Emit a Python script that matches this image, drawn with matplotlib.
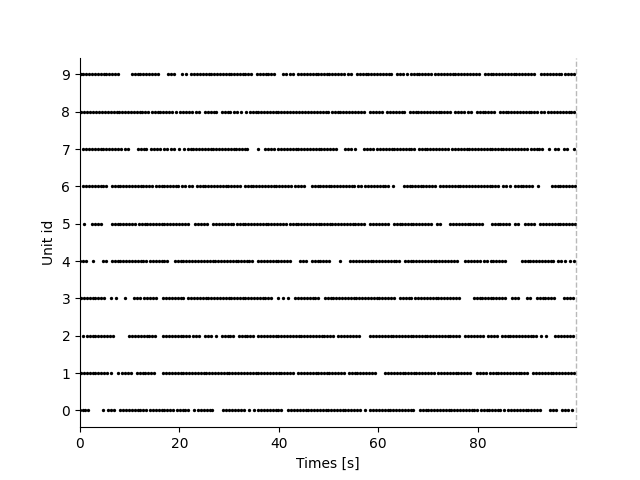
import matplotlib
matplotlib.use("Agg")
import matplotlib.pyplot as plt

t_stop = 99.8
unit_ids = [0, 1, 2, 3, 4, 5, 6, 7, 8, 9]

unit0 = [0.1, 0.6, 1.1, 1.7, 4.6, 5.7, 6.3, 6.9, 8.1, 8.7, 9.3, 9.8, 10.4, 11.0, 11.6, 12.1, 12.7, 13.3,
         14.1, 14.7, 15.3, 15.8, 16.4, 17.0, 17.6, 18.1, 18.7, 19.5, 20.1, 20.7, 21.2, 21.8, 23.0,
         23.8, 24.4, 25.0, 25.5, 26.1, 26.6, 28.8, 29.4, 30.0, 30.5, 31.1, 31.7, 32.3, 32.9, 34.1, 35.1,
         35.9, 36.5, 37.1, 37.6, 38.2, 38.8, 39.4, 39.9, 40.5, 41.9, 42.5, 43.1, 43.6, 44.2, 44.8, 45.4,
         45.9, 46.5, 47.1, 47.7, 48.2, 48.8, 49.4, 50.0, 50.6, 51.1, 51.7, 52.3, 52.9, 53.4, 54.0, 54.6,
         55.2, 55.7, 56.3, 57.3, 58.4, 59.0, 59.6, 60.1, 60.7, 61.3, 61.9, 62.4, 63.0, 63.6, 64.2, 64.7,
         65.3, 65.9, 66.5, 67.0, 68.4, 69.0, 69.6, 70.1, 70.7, 71.3, 71.9, 72.4, 73.0, 73.6, 74.2, 74.7,
         75.3, 75.9, 76.5, 77.0, 77.6, 78.2, 78.8, 79.3, 79.9, 80.6, 81.2, 81.8, 82.3, 82.9, 83.5, 84.1,
         84.6, 85.4, 86.2, 86.8, 87.4, 87.9, 88.5, 89.1, 89.7, 90.2, 90.8, 91.4, 92.0, 92.6, 94.6, 95.2,
         95.8, 96.9, 97.5, 98.1, 99.0]
unit1 = [0.2, 0.8, 1.4, 2.0, 2.6, 3.1, 3.7, 4.3, 4.9, 5.4, 6.3, 7.6, 8.4, 9.0, 9.6, 10.2, 11.4, 12.0,
         12.6, 13.1, 13.7, 14.3, 14.9, 16.8, 17.4, 18.0, 18.5, 19.1, 19.7, 20.3, 20.8, 21.4, 22.0, 22.6,
         23.1, 23.7, 24.3, 24.9, 25.4, 26.0, 26.6, 27.2, 27.7, 28.3, 28.9, 29.5, 30.0, 30.6, 31.2, 31.8,
         32.4, 33.0, 33.6, 34.2, 34.8, 35.4, 35.9, 36.5, 37.1, 37.7, 38.2, 38.8, 39.4, 40.0, 40.5, 41.1,
         41.7, 42.3, 42.9, 43.9, 44.5, 45.1, 45.6, 46.2, 46.8, 47.4, 47.9, 48.5, 49.1, 49.7, 50.2, 50.8,
         51.4, 52.0, 52.5, 53.1, 54.1, 54.7, 55.3, 55.8, 56.4, 57.0, 57.6, 58.1, 58.7, 59.3, 61.4, 62.0,
         62.6, 63.1, 63.7, 64.3, 64.9, 65.4, 66.0, 66.6, 67.2, 67.7, 68.3, 68.9, 69.5, 70.0, 70.6, 71.2,
         72.1, 72.7, 73.3, 73.8, 74.4, 75.0, 75.6, 76.1, 76.7, 77.3, 77.9, 78.5, 79.8, 80.4, 81.0, 81.6,
         82.5, 83.1, 83.7, 84.2, 84.8, 85.4, 86.0, 86.5, 87.1, 87.7, 88.3, 88.8, 89.4, 90.0, 91.2, 91.8,
         92.4, 92.9, 93.5, 94.1, 94.7, 95.2, 95.8, 96.4, 97.0, 97.5, 98.1, 98.7, 99.3]
unit2 = [0.6, 1.4, 2.0, 2.6, 3.1, 3.7, 4.3, 4.9, 5.4, 6.0, 6.6, 9.8, 10.4, 11.0, 11.6, 12.2, 12.8, 13.4,
         13.9, 14.5, 15.1, 16.8, 17.4, 18.0, 18.5, 19.1, 19.7, 20.3, 20.8, 21.4, 22.0, 22.8, 23.4, 24.0,
         25.1, 25.7, 26.4, 27.4, 28.5, 29.1, 29.7, 30.2, 30.8, 31.9, 32.5, 33.1, 33.6, 34.2, 34.8, 35.9,
         36.5, 37.1, 37.6, 38.2, 38.8, 39.4, 39.9, 40.5, 41.1, 41.7, 42.2, 42.8, 43.4, 44.0, 44.5, 45.1,
         45.7, 46.3, 46.8, 47.4, 48.0, 48.6, 49.1, 49.7, 50.3, 50.9, 52.0, 52.6, 53.2, 53.7, 54.3, 55.0,
         55.6, 56.2, 58.4, 59.0, 59.6, 60.1, 60.7, 61.3, 61.9, 62.5, 63.0, 63.6, 64.2, 64.8, 65.3, 65.9,
         66.5, 67.1, 67.6, 68.2, 68.8, 69.4, 69.9, 70.5, 71.1, 71.7, 72.2, 72.8, 73.4, 74.0, 74.5, 75.1,
         75.7, 76.3, 77.5, 78.1, 78.7, 79.2, 79.8, 80.4, 81.0, 82.0, 82.6, 83.3, 83.9, 84.9, 85.5, 86.1,
         86.6, 87.2, 87.8, 88.4, 88.9, 89.5, 90.1, 90.7, 91.2, 91.8, 92.8, 93.8, 95.6, 96.2, 96.8, 97.3,
         97.9, 98.5, 99.1]
unit3 = [0.2, 0.8, 1.4, 2.0, 2.6, 3.1, 3.7, 4.3, 4.9, 6.3, 7.3, 9.0, 10.8, 11.4, 12.0, 12.9, 13.5, 14.1,
         14.6, 15.2, 16.8, 17.4, 18.0, 18.5, 19.1, 19.7, 20.3, 20.8, 21.8, 22.4, 23.0, 23.5, 24.1, 24.7,
         25.3, 25.8, 26.4, 27.0, 27.6, 28.1, 28.7, 29.3, 29.9, 30.4, 31.0, 31.6, 32.2, 32.7, 33.3, 33.9,
         34.5, 35.0, 35.6, 36.2, 36.8, 37.3, 37.9, 38.5, 39.8, 40.8, 41.8, 43.3, 43.9, 44.5, 45.0, 45.6,
         46.2, 46.8, 47.3, 47.9, 49.3, 49.9, 50.5, 51.0, 51.6, 52.2, 52.8, 53.3, 53.9, 54.5, 55.1, 55.6,
         56.2, 56.8, 57.4, 57.9, 58.5, 59.1, 59.7, 60.2, 60.8, 61.4, 62.0, 62.5, 63.1, 64.4, 65.0, 65.6,
         66.1, 66.7, 67.4, 68.1, 68.7, 69.3, 69.8, 70.4, 71.0, 71.6, 72.1, 72.7, 73.3, 73.9, 74.4, 75.0,
         75.6, 76.2, 79.2, 79.8, 80.4, 80.9, 81.5, 82.1, 82.7, 83.2, 83.8, 84.4, 85.0, 85.6, 86.9, 87.5,
         88.2, 89.9, 90.6, 91.9, 92.5, 93.1, 93.6, 94.2, 94.8, 95.3, 97.3, 97.9, 98.5, 99.2]
unit4 = [0.1, 0.6, 1.2, 2.6, 4.7, 5.3, 6.4, 7.0, 7.6, 8.1, 8.7, 9.3, 9.9, 10.4, 11.0, 11.6, 12.2, 12.7,
         13.3, 14.1, 14.7, 15.3, 15.8, 16.4, 17.0, 17.6, 19.1, 19.7, 20.3, 20.8, 21.4, 22.0, 22.6, 23.2,
         23.8, 24.4, 24.9, 25.5, 26.1, 26.7, 27.2, 27.8, 28.4, 29.0, 29.5, 30.1, 30.7, 31.3, 31.8, 32.4,
         33.0, 33.6, 34.1, 34.7, 35.9, 36.5, 37.1, 37.6, 38.2, 38.8, 39.4, 39.9, 40.5, 41.1, 41.7, 42.3,
         44.3, 44.9, 45.5, 46.6, 47.2, 47.8, 48.3, 48.9, 49.5, 50.1, 52.3, 54.4, 55.0, 55.6, 56.1, 56.7,
         57.3, 57.9, 58.5, 59.0, 59.6, 60.2, 60.8, 61.3, 61.9, 62.5, 63.1, 63.6, 64.2, 65.4, 66.0, 66.6,
         67.1, 67.7, 68.3, 68.9, 69.4, 70.0, 70.6, 71.2, 71.7, 72.3, 72.9, 73.5, 74.0, 74.6, 75.2, 75.8,
         77.5, 78.1, 78.7, 79.2, 79.8, 80.4, 81.2, 81.8, 82.6, 83.2, 83.8, 84.3, 84.9, 85.5, 88.9, 89.5,
         90.1, 90.6, 91.2, 91.8, 92.4, 92.9, 93.5, 94.1, 94.7, 95.2, 96.2, 96.8, 97.6, 98.5, 99.3]
unit5 = [0.9, 2.4, 3.0, 3.6, 4.2, 6.4, 7.0, 7.6, 8.1, 8.7, 9.3, 9.9, 10.4, 11.0, 11.8, 12.4, 13.0, 13.5,
         14.1, 14.7, 15.3, 15.8, 16.4, 17.0, 17.6, 18.2, 18.8, 19.4, 20.0, 20.6, 21.1, 21.7, 23.1, 23.7,
         24.3, 24.9, 25.5, 26.8, 27.4, 28.0, 28.5, 29.1, 29.7, 30.3, 30.8, 31.6, 32.2, 32.8, 33.3, 33.9,
         34.5, 35.1, 35.6, 36.2, 36.8, 37.4, 37.9, 38.5, 39.1, 39.7, 40.2, 40.8, 41.4, 42.2, 42.8, 43.4,
         43.9, 44.5, 45.1, 45.7, 46.2, 46.8, 47.4, 48.0, 48.5, 49.1, 49.7, 50.3, 50.8, 51.4, 52.0, 52.6,
         53.1, 53.7, 54.3, 54.9, 55.4, 56.0, 56.6, 57.2, 58.4, 59.0, 59.6, 60.1, 60.7, 61.3, 61.9, 63.1,
         63.7, 64.3, 64.8, 65.4, 66.0, 66.6, 67.1, 67.7, 68.3, 68.9, 69.4, 70.0, 70.6, 71.8, 72.5, 74.5,
         75.1, 75.7, 76.2, 76.8, 77.4, 78.0, 78.5, 79.1, 79.7, 80.3, 80.8, 82.9, 83.5, 84.1, 84.6, 85.2,
         85.8, 86.4, 87.6, 88.2, 89.6, 90.2, 90.8, 91.4, 92.6, 93.2, 93.8, 94.3, 94.9, 95.5, 96.1, 96.6,
         97.2, 97.8, 98.4, 98.9, 99.5]
unit6 = [0.7, 1.3, 1.9, 2.4, 3.0, 3.6, 4.2, 4.7, 5.3, 6.4, 7.0, 7.6, 8.1, 8.7, 9.3, 9.9, 10.4, 11.0,
         11.6, 12.2, 12.7, 13.3, 13.9, 14.5, 15.2, 15.8, 16.4, 17.0, 17.5, 18.1, 18.7, 19.3, 19.8, 20.5,
         21.2, 22.0, 22.6, 23.5, 24.1, 24.7, 25.2, 25.8, 26.4, 27.0, 27.5, 28.1, 28.7, 29.3, 29.8, 30.4,
         31.0, 31.6, 32.2, 33.2, 33.8, 34.4, 34.9, 35.5, 36.1, 36.7, 37.2, 37.8, 38.4, 39.0, 39.5, 40.1,
         40.7, 41.3, 41.8, 42.4, 43.3, 43.9, 44.5, 45.1, 46.6, 47.2, 47.8, 48.3, 48.9, 49.5, 50.1, 50.6,
         51.2, 51.8, 52.4, 52.9, 53.5, 54.1, 54.7, 55.2, 55.9, 56.5, 57.4, 58.0, 58.6, 59.1, 59.7, 60.3,
         60.9, 61.4, 62.0, 63.0, 65.1, 65.7, 66.3, 66.8, 67.4, 68.0, 68.6, 69.1, 69.7, 70.3, 70.9, 71.4,
         72.5, 73.1, 73.7, 74.2, 74.8, 75.4, 76.0, 76.5, 77.1, 77.7, 78.3, 78.8, 79.4, 80.0, 80.6, 81.2,
         81.8, 82.4, 82.9, 83.5, 84.1, 85.2, 85.8, 86.5, 87.5, 88.1, 88.7, 89.2, 89.8, 90.4, 91.0, 92.1,
         94.9, 95.5, 96.1, 96.6, 97.2, 97.8, 98.4, 98.9, 99.5]
unit7 = [0.7, 1.3, 1.9, 2.4, 3.0, 3.6, 4.2, 4.7, 5.3, 5.9, 6.5, 7.0, 7.6, 8.2, 9.1, 9.7, 11.6, 12.2,
         12.8, 13.3, 14.2, 14.8, 15.5, 16.1, 17.0, 17.6, 18.3, 19.0, 20.0, 21.0, 21.8, 22.3, 22.8, 23.4,
         24.0, 24.5, 25.1, 25.7, 26.3, 26.8, 27.4, 28.0, 28.6, 29.1, 29.7, 30.3, 30.9, 31.4, 32.0, 32.6,
         33.2, 33.7, 35.8, 37.2, 37.8, 38.4, 39.0, 39.9, 40.5, 41.1, 41.6, 42.2, 42.8, 43.4, 43.9, 44.5,
         45.1, 45.7, 46.2, 46.8, 47.4, 48.0, 48.5, 49.1, 49.7, 50.3, 50.9, 51.5, 53.4, 54.0, 54.6, 55.3,
         57.1, 57.7, 58.3, 58.9, 59.8, 60.4, 61.0, 61.5, 62.1, 62.7, 63.2, 63.8, 64.4, 65.0, 65.5, 66.1,
         66.7, 67.3, 68.2, 68.8, 69.4, 69.9, 70.5, 71.1, 71.7, 72.2, 72.8, 73.4, 74.0, 74.9, 75.5, 76.0,
         76.6, 77.2, 77.8, 78.3, 78.9, 79.5, 80.1, 80.6, 81.2, 81.8, 82.4, 82.9, 83.5, 84.1, 84.7, 85.2,
         85.8, 86.4, 87.0, 87.5, 88.1, 88.7, 89.3, 89.9, 90.7, 91.3, 91.9, 92.4, 93.0, 94.3, 95.5, 96.1,
         97.4, 98.0, 99.4]
unit8 = [0.3, 0.9, 1.5, 2.0, 2.6, 3.2, 3.8, 4.5, 5.1, 5.6, 6.2, 6.8, 7.4, 7.9, 8.5, 9.1, 9.7, 10.2,
         10.8, 11.4, 12.0, 12.5, 13.1, 13.7, 14.4, 15.0, 15.6, 16.1, 16.7, 17.3, 17.9, 18.5, 19.4, 20.1,
         20.7, 21.3, 22.0, 22.6, 23.3, 23.9, 25.1, 25.7, 26.3, 26.9, 27.4, 28.5, 29.1, 29.7, 30.1, 31.0,
         31.6, 32.3, 33.4, 34.2, 34.8, 35.4, 35.9, 36.5, 37.1, 37.6, 38.2, 38.8, 39.4, 39.9, 40.5, 41.1,
         41.7, 42.2, 42.8, 43.4, 44.0, 44.6, 45.2, 45.9, 46.5, 47.1, 47.7, 48.2, 48.8, 49.4, 50.0, 50.7,
         51.3, 51.9, 52.4, 53.0, 53.6, 54.2, 54.7, 55.3, 55.9, 56.5, 57.1, 58.4, 59.0, 59.6, 60.2, 60.8,
         61.7, 62.3, 62.9, 63.5, 64.1, 64.7, 65.2, 66.4, 67.0, 67.6, 68.1, 68.7, 69.3, 69.9, 70.4, 71.0,
         71.6, 72.2, 72.7, 73.3, 73.9, 74.5, 75.5, 76.1, 76.7, 77.3, 78.0, 78.6, 79.8, 80.4, 81.0, 81.5,
         82.1, 82.7, 83.3, 84.5, 85.1, 85.7, 86.2, 86.8, 87.4, 88.0, 88.5, 89.1, 89.7, 90.3, 90.8, 91.4,
         92.0, 92.7, 93.3, 94.2, 94.8, 95.4, 96.0, 96.5, 97.1, 97.7, 98.3, 98.8, 99.4]
unit9 = [0.2, 0.7, 1.3, 1.8, 2.5, 3.0, 3.6, 4.2, 4.8, 5.3, 5.9, 6.5, 7.0, 7.6, 10.4, 11.0, 11.6, 12.1,
         12.7, 13.3, 13.9, 14.4, 15.0, 15.6, 17.8, 18.3, 19.0, 20.5, 21.3, 22.4, 23.0, 23.6, 24.1, 24.7,
         25.3, 25.9, 26.4, 27.0, 27.6, 28.1, 28.7, 29.3, 29.9, 30.4, 31.0, 31.6, 32.2, 32.7, 33.3, 33.9,
         34.4, 35.6, 36.2, 36.8, 37.4, 37.9, 38.4, 39.1, 40.9, 41.5, 42.2, 42.8, 43.9, 44.5, 45.1, 45.6,
         46.2, 46.8, 47.4, 47.9, 48.5, 49.1, 49.7, 50.2, 50.8, 51.4, 52.0, 52.5, 53.1, 54.0, 54.6, 55.7,
         56.3, 56.9, 57.5, 58.0, 58.6, 59.2, 59.8, 60.3, 60.9, 61.5, 62.1, 62.6, 63.8, 64.4, 65.0, 65.7,
         66.6, 67.2, 67.8, 68.3, 68.9, 69.5, 70.1, 70.6, 71.5, 72.1, 72.7, 73.2, 73.8, 74.4, 75.0, 75.5,
         76.1, 76.7, 77.3, 77.8, 78.4, 79.0, 79.6, 80.2, 81.5, 82.1, 82.7, 83.2, 83.8, 84.4, 85.0, 85.5,
         86.1, 86.7, 87.3, 87.8, 88.4, 89.0, 89.6, 90.1, 90.7, 91.4, 92.8, 93.4, 94.0, 94.5, 95.1, 95.7,
         96.3, 96.8, 97.6, 98.2, 98.8, 99.4]

spike_trains = [unit0, unit1, unit2, unit3, unit4, unit5, unit6, unit7, unit8, unit9]

fig, ax = plt.subplots(figsize=(6.4, 4.8), dpi=100)
for uid, times in zip(unit_ids, spike_trains):
    ax.plot(times, [uid] * len(times), linestyle="none", marker="o",
            markersize=2.4, markeredgewidth=0, color="black")

ax.axvline(t_stop, color="gray", linestyle="--", alpha=0.55, linewidth=1, clip_on=False)
ax.set_xlim(0, t_stop)
ax.set_yticks(unit_ids)
ax.set_xlabel("Times [s]")
ax.set_ylabel("Unit id")
ax.spines["top"].set_visible(False)
ax.spines["right"].set_visible(False)

fig.savefig("out.png", dpi=100)
